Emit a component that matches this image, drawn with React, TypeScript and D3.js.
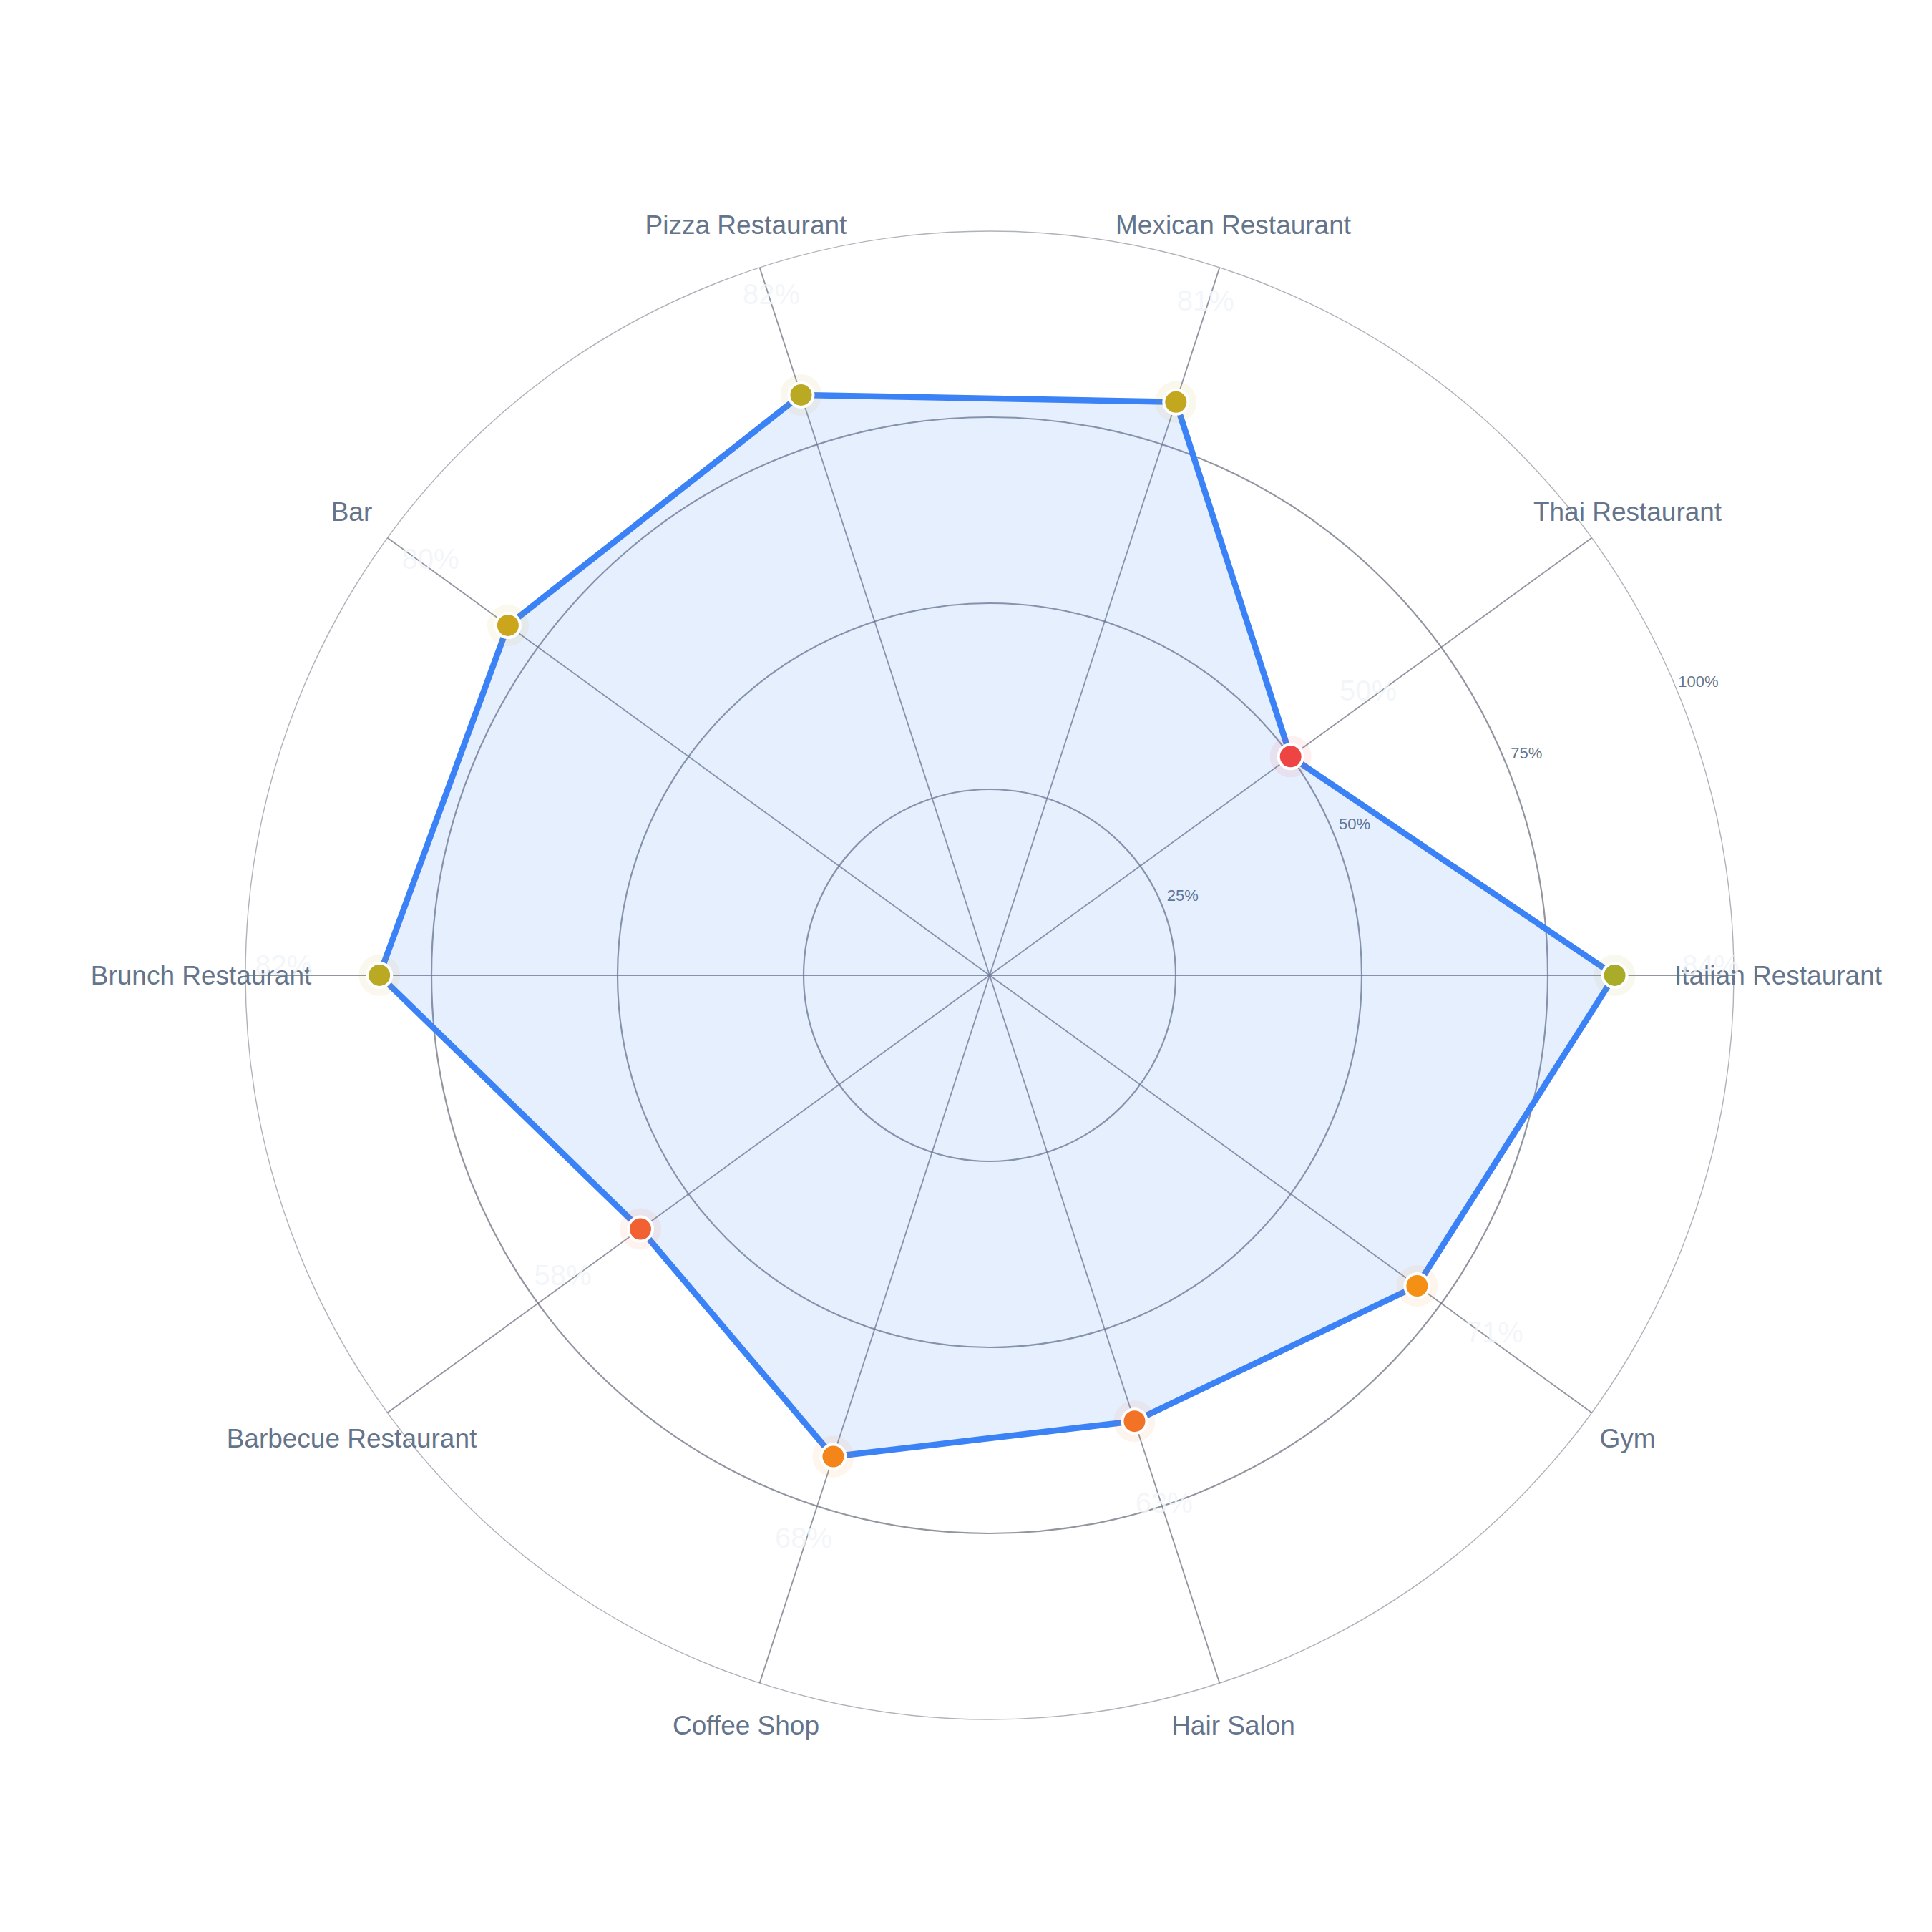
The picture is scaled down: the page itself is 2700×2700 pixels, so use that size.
import * as d3 from "d3";
import { useRef, useEffect } from "react";

const categories = [
  "Italian Restaurant",
  "Thai Restaurant",
  "Mexican Restaurant",
  "Pizza Restaurant",
  "Bar",
  "Brunch Restaurant",
  "Barbecue Restaurant",
  "Coffee Shop",
  "Hair Salon",
  "Gym",
];

const scores = [84, 50, 81, 82, 80, 82, 58, 68, 63, 71];

const ringTicks = [25, 50, 75, 100];

type Datum = { name: string; value: number; i: number };

export default function App() {
  const svgRef = useRef<SVGSVGElement | null>(null);

  useEffect(() => {
    const svg = d3.select(svgRef.current);
    svg.selectAll("*").remove();

    const W = 2700;
    const H = 2700;
    const cx = 1383;
    const cy = 1363;
    const outerR = 1040;
    const font = "'Liberation Sans', Arial, Helvetica, sans-serif";

    const data: Datum[] = categories.map((name, i) => ({ name, value: scores[i], i }));
    const n = data.length;

    const r = d3.scaleLinear().domain([0, 100]).range([0, outerR]);
    // angle measured from 12 o'clock clockwise (d3 radial convention); first axis points east
    const ang = (i: number) => Math.PI / 2 - (i * 2 * Math.PI) / n;
    const px = (i: number, v: number) => Math.sin(ang(i)) * r(v);
    const py = (i: number, v: number) => -Math.cos(ang(i)) * r(v);

    // red -> amber -> green by score
    const color = d3
      .scaleLinear<string>()
      .domain([50, 75, 100])
      .range(["#ef4444", "#f59e0b", "#22c55e"])
      .interpolate(d3.interpolateRgb)
      .clamp(true);

    svg.attr("viewBox", `0 0 ${W} ${H}`);
    svg.append("rect").attr("width", W).attr("height", H).attr("fill", "white");

    const g = svg.append("g").attr("transform", `translate(${cx},${cy})`);

    // rings
    g.selectAll("circle.ring")
      .data(ringTicks)
      .join("circle")
      .attr("class", "ring")
      .attr("r", d => r(d))
      .attr("fill", "none")
      .attr("stroke", "#6b7280")
      .attr("stroke-opacity", d => (d === 100 ? 0.55 : 0.75))
      .attr("stroke-width", d => (d === 100 ? 1.4 : 2.2));

    // spokes
    g.selectAll("line.spoke")
      .data(data)
      .join("line")
      .attr("class", "spoke")
      .attr("x1", 0)
      .attr("y1", 0)
      .attr("x2", d => px(d.i, 100))
      .attr("y2", d => py(d.i, 100))
      .attr("stroke", "#6b7280")
      .attr("stroke-opacity", 0.75)
      .attr("stroke-width", 1.8);

    // ring tick labels along 22.5deg
    const tickA = Math.PI / 2 - (22.5 * Math.PI) / 180;
    g.selectAll("text.tick")
      .data(ringTicks)
      .join("text")
      .attr("class", "tick")
      .attr("x", d => Math.sin(tickA) * (r(d) + 32))
      .attr("y", d => -Math.cos(tickA) * (r(d) + 32))
      .attr("text-anchor", "middle")
      .attr("dominant-baseline", "central")
      .attr("font-family", font)
      .attr("font-size", 22)
      .attr("fill", "#64748b")
      .text(d => `${d}%`);

    // area + outline
    const radial = d3
      .lineRadial<Datum>()
      .angle(d => ang(d.i))
      .radius(d => r(d.value))
      .curve(d3.curveLinearClosed);

    g.append("path")
      .attr("d", radial(data)!)
      .attr("fill", "#3b82f6")
      .attr("fill-opacity", 0.13)
      .attr("stroke", "none");

    g.append("path")
      .attr("d", radial(data)!)
      .attr("fill", "none")
      .attr("stroke", "#3b82f6")
      .attr("stroke-width", 8.5)
      .attr("stroke-linejoin", "round");

    // markers
    const marks = g.selectAll("g.mark")
      .data(data)
      .join("g")
      .attr("class", "mark")
      .attr("transform", d => `translate(${px(d.i, d.value)},${py(d.i, d.value)})`);

    marks.append("circle")
      .attr("r", 29)
      .attr("fill", d => color(d.value))
      .attr("fill-opacity", 0.08);

    marks.append("circle")
      .attr("r", 17)
      .attr("fill", d => color(d.value))
      .attr("stroke", "white")
      .attr("stroke-width", 4);

    // category labels
    g.selectAll("text.cat")
      .data(data)
      .join("text")
      .attr("class", "cat")
      .attr("x", d => Math.sin(ang(d.i)) * 1102)
      .attr("y", d => -Math.cos(ang(d.i)) * 1102)
      .attr("text-anchor", "middle")
      .attr("dominant-baseline", "central")
      .attr("font-family", font)
      .attr("font-size", 37)
      .attr("fill", "#64748b")
      .text(d => d.name);

    // faint value labels
    g.selectAll("text.val")
      .data(data)
      .join("text")
      .attr("class", "val")
      .attr("x", d => Math.sin(ang(d.i)) * (r(d.value) + 134))
      .attr("y", d => -Math.cos(ang(d.i)) * (r(d.value) + 134))
      .attr("text-anchor", "middle")
      .attr("font-family", font)
      .attr("font-size", 40)
      .attr("fill", "#f1f5f9")
      .attr("fill-opacity", 0.85)
      .text(d => `${d.value}%`);
  }, []);

  return (
    <svg
      ref={svgRef}
      width={2700}
      height={2700}
      style={{ display: "block", position: "absolute", left: 0, top: 0 }}
    />
  );
}
